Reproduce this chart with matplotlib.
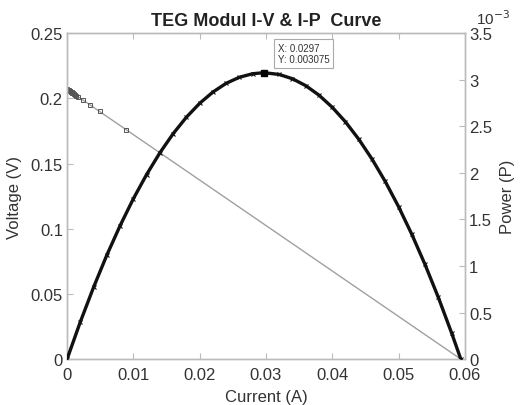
import matplotlib
matplotlib.use("Agg")
import matplotlib.pyplot as plt

# Voltage measurements (I-V)
iv_current = [0.0, 0.0001, 0.0002, 0.0003, 0.0004, 0.0005, 0.0006, 0.0007,
              0.0008, 0.0009, 0.0010, 0.0012, 0.0014, 0.0017, 0.0024, 0.0034,
              0.0049, 0.0089, 0.0594]
iv_voltage = [0.2070, 0.2067, 0.2063, 0.2060, 0.2056, 0.2053, 0.2049, 0.2046,
              0.2042, 0.2039, 0.2035, 0.2028, 0.2021, 0.2011, 0.1986, 0.1952,
              0.1899, 0.1760, 0.0]

# Power curve (I-P)
ip_current = [0.0, 0.002, 0.004, 0.006, 0.008, 0.010, 0.012, 0.014, 0.016,
              0.018, 0.020, 0.022, 0.024, 0.026, 0.028, 0.0297, 0.032, 0.034,
              0.036, 0.038, 0.040, 0.042, 0.044, 0.046, 0.048, 0.050, 0.052,
              0.054, 0.056, 0.058, 0.0594]
ip_power = [0.0, 0.000400, 0.000772, 0.001117, 0.001433, 0.001722, 0.001982,
            0.002215, 0.002420, 0.002597, 0.002746, 0.002867, 0.002961,
            0.003026, 0.003064, 0.003075, 0.003056, 0.003010, 0.002936,
            0.002834, 0.002704, 0.002547, 0.002361, 0.002148, 0.001907,
            0.001638, 0.001341, 0.001016, 0.000664, 0.000283, 0.0]

peak_x = 0.0297
peak_y = 0.003075

x_ticks = [0, 0.01, 0.02, 0.03, 0.04, 0.05, 0.06]
x_tick_labels = ["0", "0.01", "0.02", "0.03", "0.04", "0.05", "0.06"]
v_ticks = [0, 0.05, 0.1, 0.15, 0.2, 0.25]
v_tick_labels = ["0", "0.05", "0.1", "0.15", "0.2", "0.25"]
p_ticks = [0, 0.0005, 0.001, 0.0015, 0.002, 0.0025, 0.003, 0.0035]
p_tick_labels = ["0", "0.5", "1", "1.5", "2", "2.5", "3", "3.5"]

plt.rcParams['font.family'] = ['Liberation Sans', 'DejaVu Sans']

fig = plt.figure(figsize=(5.24, 4.06), dpi=100)
ax = fig.add_axes([0.128, 0.113, 0.759, 0.803])
ax2 = ax.twinx()

spine_c = '#bbbbbb'
text_c = '#333333'

ax.plot(iv_current, iv_voltage, color='#a0a0a0', lw=1.0, marker='s',
        markersize=3, markerfacecolor='none', markeredgecolor='#555555',
        markeredgewidth=0.7, markevery=list(range(len(iv_current) - 1)),
        zorder=2)
ax2.plot(ip_current, ip_power, color='#111111', lw=2.4, marker='x',
         markersize=3.5, markeredgewidth=0.8, zorder=3)
ax2.plot([peak_x], [peak_y], marker='s', color='black', markersize=5, zorder=4)

ax.set_xlim(0, 0.06)
ax.set_ylim(0, 0.25)
ax2.set_ylim(0, 0.0035)

ax.set_xticks(x_ticks)
ax.set_xticklabels(x_tick_labels)
ax.set_yticks(v_ticks)
ax.set_yticklabels(v_tick_labels)
ax2.set_yticks(p_ticks)
ax2.set_yticklabels(p_tick_labels)

for a in (ax, ax2):
    for s in a.spines.values():
        s.set_color(spine_c)
        s.set_linewidth(1.0)
    a.tick_params(direction='in', colors=spine_c, labelcolor=text_c,
                  labelsize=12, length=4)
ax.tick_params(axis='x', top=True, pad=6)
ax.tick_params(axis='y', pad=3)
ax2.tick_params(axis='y', pad=3)

ax.set_xlabel("Current (A)", fontsize=12, color=text_c, labelpad=5)
ax.set_ylabel("Voltage (V)", fontsize=12, color=text_c, labelpad=6)
ax2.set_ylabel("Power (P)", fontsize=12, color=text_c, labelpad=6)
ax.set_title("TEG Modul I-V & I-P  Curve", fontsize=13, fontweight='bold',
             color='#222222', pad=6)

ax2.text(1.07, 1.02, r"10$^{-3}$", transform=ax2.transAxes, fontsize=11,
         color=text_c, ha='center', va='bottom')

ax2.annotate("X: 0.0297\nY: 0.003075", xy=(peak_x, peak_y),
             xytext=(0.0318, 0.00328), fontsize=7, color='#333333',
             ha='left', va='center',
             bbox=dict(boxstyle='square,pad=0.35', fc='white', ec='#aaaaaa',
                       lw=0.8))

fig.savefig("out.png", dpi=100)
